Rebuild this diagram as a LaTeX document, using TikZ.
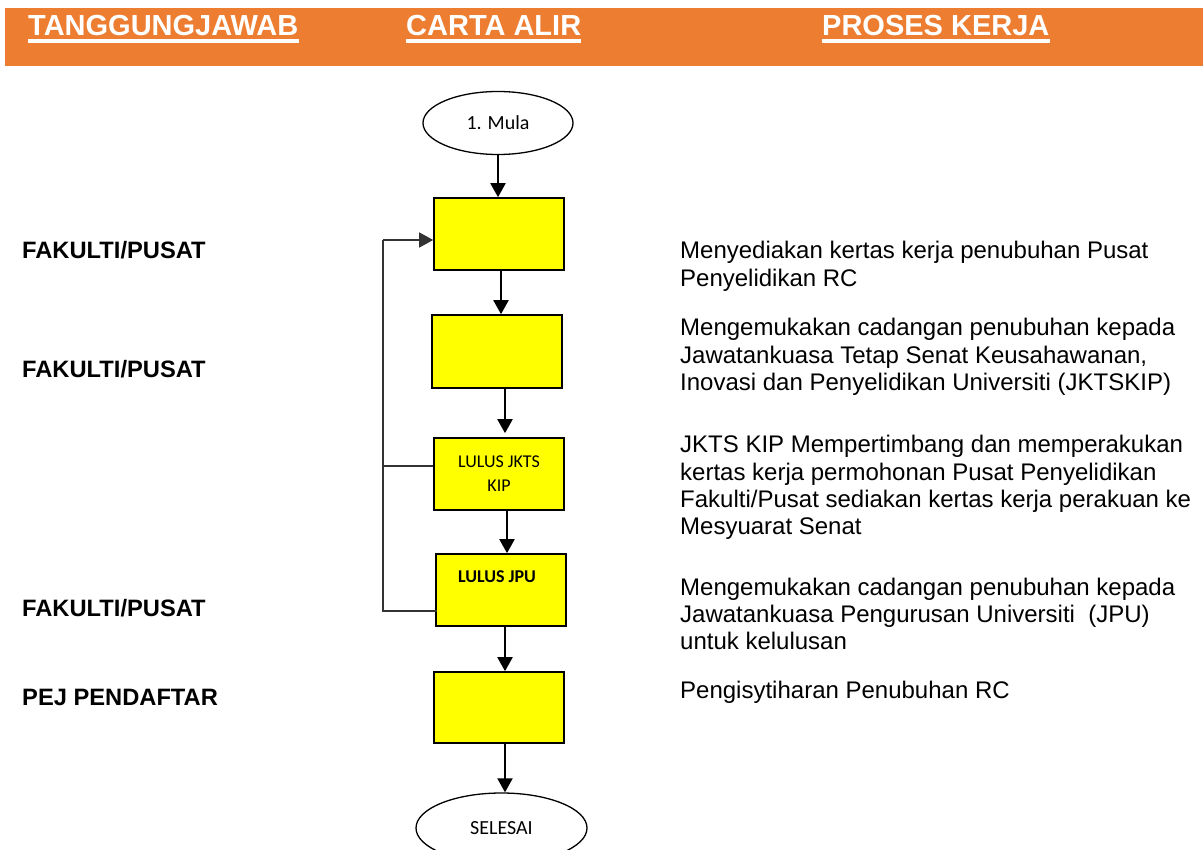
\documentclass[tikz,border=0pt]{standalone}
\usepackage{fontspec}
\setmainfont{Liberation Sans}
\newfontfamily\calibri{Carlito}
\usetikzlibrary{arrows.meta,shapes.geometric,calc}
\definecolor{bandorange}{HTML}{ED7D31}
\definecolor{boxyellow}{HTML}{FFFF00}

\begin{document}
\begin{tikzpicture}[x=1pt,y=-1pt,
  hdr/.style={anchor=base west,inner sep=0pt,text=white,font=\fontsize{29}{32}\selectfont\bfseries},
  role/.style={anchor=base west,inner sep=0pt,font=\fontsize{23.7}{27}\selectfont\bfseries},
  desc/.style={anchor=base west,inner sep=0pt,font=\fontsize{24}{27.3}\selectfont},
  stepbox/.style={draw=black,line width=1.6pt,fill=boxyellow,minimum width=130pt,minimum height=72pt,inner sep=0pt,font=\calibri\fontsize{18}{24}\selectfont,align=center},
  term/.style={draw=black,line width=1.3pt,ellipse,inner sep=0pt,font=\calibri\fontsize{20}{24}\selectfont},
  flow/.style={line width=2pt,-{Triangle[width=15pt,length=14pt]}},
  loopline/.style={line width=1.3pt,draw=black!80}
]
% page area and header band
\clip (0,0) rectangle (1203,850);
\fill[white] (0,0) rectangle (1203,850);
\fill[bandorange] (5,8) rectangle (1203,66);

\node[hdr] (h1) at (28,36) {TANGGUNGJAWAB};
\node[hdr] (h2) at (406,36) {CARTA ALIR};
\node[hdr] (h3) at (822,36) {PROSES KERJA};
\foreach \h in {h1,h2,h3}
  \fill[white] ($(\h.base west)+(0,3.3)$) rectangle ($(\h.base east)+(0,6.7)$);

% responsibility column
\node[role] (r1) at (22,259) {FAKULTI/PUSAT};
\node[role] (r2) at (22,378) {FAKULTI/PUSAT};
\node[role] (r3) at (22,616) {FAKULTI/PUSAT};
\node[role] (r4) at (22,705) {PEJ PENDAFTAR};

% flowchart
\node[term,minimum width=150pt,minimum height=63pt] (mula) at (498,123) {1. Mula};
\node[stepbox] (s1) at (499,234) {};
\node[stepbox,minimum height=73pt] (s2) at (497,351.5) {};
\node[stepbox] (s3) at (499,474) {LULUS JKTS\\KIP};
\node[stepbox] (s4) at (501,590) {};
\node[inner sep=0pt,font=\calibri\bfseries\fontsize{18}{22}\selectfont] (jpu) at (497,577) {LULUS JPU};
\node[stepbox,minimum height=71pt] (s5) at (499,707.5) {};
\node[term,minimum width=171pt,minimum height=70pt] (fin) at (501.5,828) {SELESAI};

\draw[flow] (mula.south) -- (mula.south |- s1.north);
\draw[flow] ([xshift=2pt]s1.south) -- ([xshift=2pt]s1.south |- s2.north);
\draw[flow] ([xshift=8pt]s2.south) -- ($([xshift=8pt]s2.south |- s3.north)+(0,-4)$);
\draw[flow] ([xshift=8pt]s3.south) -- ([xshift=8pt]s3.south |- s4.north);
\draw[flow] ([xshift=4pt]s4.south) -- ([xshift=4pt]s4.south |- s5.north);
\draw[flow] ([xshift=6pt]s5.south) -- ([xshift=6pt]s5.south |- fin.north);

% return path on the left of the chart
\coordinate (rail) at (383,0);
\coordinate (jpuout) at ($(s4.west)+(2,21)$);
\coordinate (kipout) at ($(s3.west)+(0,-8)$);
\coordinate (back) at ($(s1.west)+(0,6)$);
\draw[loopline] (jpuout) -- (jpuout -| rail) -- (rail |- back);
\draw[loopline,-{Triangle[width=15pt,length=14pt]}] (rail |- back) -- (back);
\draw[loopline] (kipout) -- (kipout -| rail);

% work process column
\node[desc] (p1) at (680,259) {\parbox[t]{520pt}{\raggedright
  Menyediakan kertas kerja penubuhan Pusat\\
  Penyelidikan RC}};
\node[desc] (p2) at (680,336) {\parbox[t]{520pt}{\raggedright
  Mengemukakan cadangan penubuhan kepada\\
  Jawatankuasa Tetap Senat Keusahawanan,\\
  Inovasi dan Penyelidikan Universiti (JKTSKIP)}};
\node[desc] (p3) at (680,453) {\parbox[t]{520pt}{\raggedright
  JKTS KIP Mempertimbang dan memperakukan\\
  kertas kerja permohonan Pusat Penyelidikan\\
  Fakulti/Pusat sediakan kertas kerja perakuan ke\\
  Mesyuarat Senat}};
\node[desc] (p4) at (680,595) {\parbox[t]{520pt}{\raggedright
  Mengemukakan cadangan penubuhan kepada\\
  Jawatankuasa Pengurusan Universiti~ (JPU)\\
  untuk kelulusan}};
\node[desc] (p5) at (680,698) {Pengisytiharan Penubuhan RC};
\end{tikzpicture}
\end{document}
